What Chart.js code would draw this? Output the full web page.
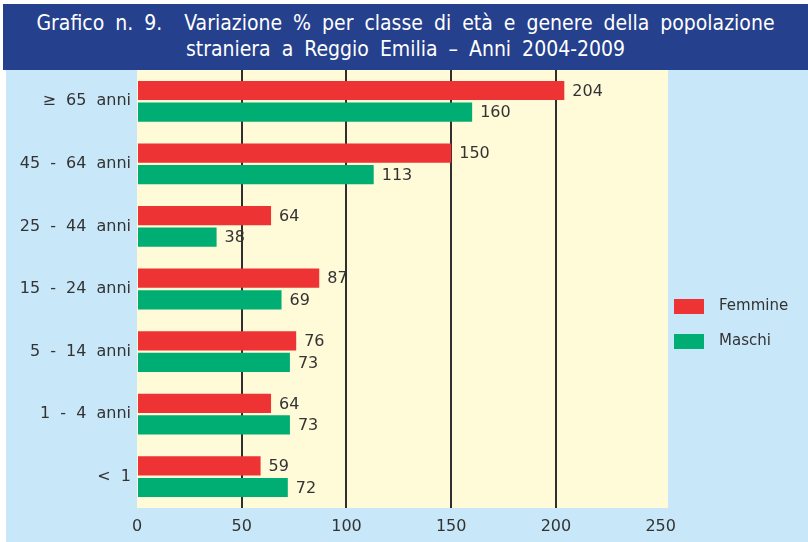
<!DOCTYPE html>
<html lang="it">
<head>
<meta charset="utf-8">
<title>Grafico n. 9</title>
<script src="https://cdn.jsdelivr.net/npm/chart.js@4.4.1/dist/chart.umd.min.js"></script>
<style>
  html, body { margin: 0; padding: 0; background: #ffffff; }
  body { width: 808px; height: 542px; position: relative; overflow: hidden; }
  #titolo {
    position: absolute; left: 3px; top: 4px; width: 805px; height: 66px;
    background: #25408c; color: #ffffff; text-align: center;
    font-family: "DejaVu Sans Condensed", "Liberation Sans Narrow", "Liberation Sans", sans-serif;
    font-size: 21px; line-height: 26px; word-spacing: 5px; padding-top: 6px; box-sizing: border-box;
  }
  #box {
    position: absolute; left: 6px; top: 70px; width: 802px; height: 472px;
    background: #c8e7f8;
  }
</style>
</head>
<body>
<div id="titolo">Grafico n. 9.&nbsp; Variazione % per classe di età e genere della popolazione<br>straniera a Reggio Emilia – Anni 2004-2009</div>
<div id="box"><canvas id="grafico" width="802" height="472"></canvas></div>

<script>
// dati
const classi = ['≥ 65 anni', '45 - 64 anni', '25 - 44 anni', '15 - 24 anni', '5 - 14 anni', '1 - 4 anni', '< 1'];
const femmine = [204, 150, 64, 87, 76, 64, 59];
const maschi = [160, 113, 38, 69, 73, 73, 72];
const tickAsse = [0, 50, 100, 150, 200, 250];

const FONT = '"DejaVu Sans", Verdana, sans-serif';
const TESTO = '#333333';

// sfondo crema dell'area del grafico (e spaziatura larga tra le parole)
const sfondoPlugin = {
    id: 'sfondo',
    beforeDraw(chart) {
        const a = chart.chartArea;
        const ctx = chart.ctx;
        ctx.save();
        ctx.fillStyle = '#fffad8';
        ctx.fillRect(a.left, a.top, a.right - a.left, a.bottom - a.top);
        ctx.restore();
        if ('wordSpacing' in ctx) ctx.wordSpacing = '5px';
    }
};

// etichette con i valori a destra delle barre
const valoriPlugin = {
    id: 'valori',
    afterDatasetsDraw(chart) {
        const ctx = chart.ctx;
        ctx.save();
        ctx.font = '16px ' + FONT;
        ctx.fillStyle = TESTO;
        ctx.textAlign = 'left';
        ctx.textBaseline = 'middle';
        chart.data.datasets.forEach((ds, i) => {
            chart.getDatasetMeta(i).data.forEach((bar, j) => {
                ctx.fillText(ds.data[j], bar.x + 8, bar.y + 1);
            });
        });
        ctx.restore();
    }
};

// legenda a destra
const legendaPlugin = {
    id: 'legenda',
    afterDraw(chart) {
        const ctx = chart.ctx;
        const a = chart.chartArea;
        ctx.save();
        ctx.font = '15px ' + FONT;
        ctx.textBaseline = 'middle';
        chart.data.datasets.forEach((ds, i) => {
            const y = a.top + 229 + i * 35;
            ctx.fillStyle = ds.backgroundColor;
            ctx.fillRect(a.right + 6, y, 30, 15);
            ctx.fillStyle = TESTO;
            ctx.fillText(ds.label, a.right + 51, y + 7);
        });
        ctx.restore();
    }
};

function init() {
    const ctx = document.getElementById('grafico').getContext('2d');
    new Chart(ctx, {
        type: 'bar',
        data: {
            labels: classi,
            datasets: [
                { label: 'Femmine', data: femmine, backgroundColor: '#ee3335', categoryPercentage: 0.69, barPercentage: 0.89 },
                { label: 'Maschi', data: maschi, backgroundColor: '#00ae73', categoryPercentage: 0.69, barPercentage: 0.89 }
            ]
        },
        options: {
            indexAxis: 'y',
            responsive: false,
            animation: false,
            layout: { padding: { top: 0, right: 140, bottom: 0, left: 0 } },
            scales: {
                x: {
                    min: 0,
                    max: 253.5,
                    afterFit: s => { s.height = 34; s.paddingLeft = 0; s.paddingRight = 0; },
                    afterBuildTicks: s => { s.ticks = tickAsse.map(v => ({ value: v })); },
                    border: { display: false },
                    grid: {
                        drawTicks: false,
                        lineWidth: 2,
                        color: c => (c.tick && c.tick.value > 0 && c.tick.value < 250) ? '#2f2f2f' : 'rgba(0,0,0,0)'
                    },
                    ticks: { color: TESTO, font: { family: FONT, size: 16 }, padding: 9 }
                },
                y: {
                    afterFit: s => { s.width = 131; s.paddingTop = 0; s.paddingBottom = 0; },
                    border: { display: false },
                    grid: { display: false, drawTicks: false },
                    ticks: { color: TESTO, font: { family: FONT, size: 16 }, padding: 6 }
                }
            },
            plugins: {
                legend: { display: false },
                tooltip: { enabled: false }
            }
        },
        plugins: [sfondoPlugin, valoriPlugin, legendaPlugin]
    });
}

window.onload = init;
</script>
</body>
</html>
